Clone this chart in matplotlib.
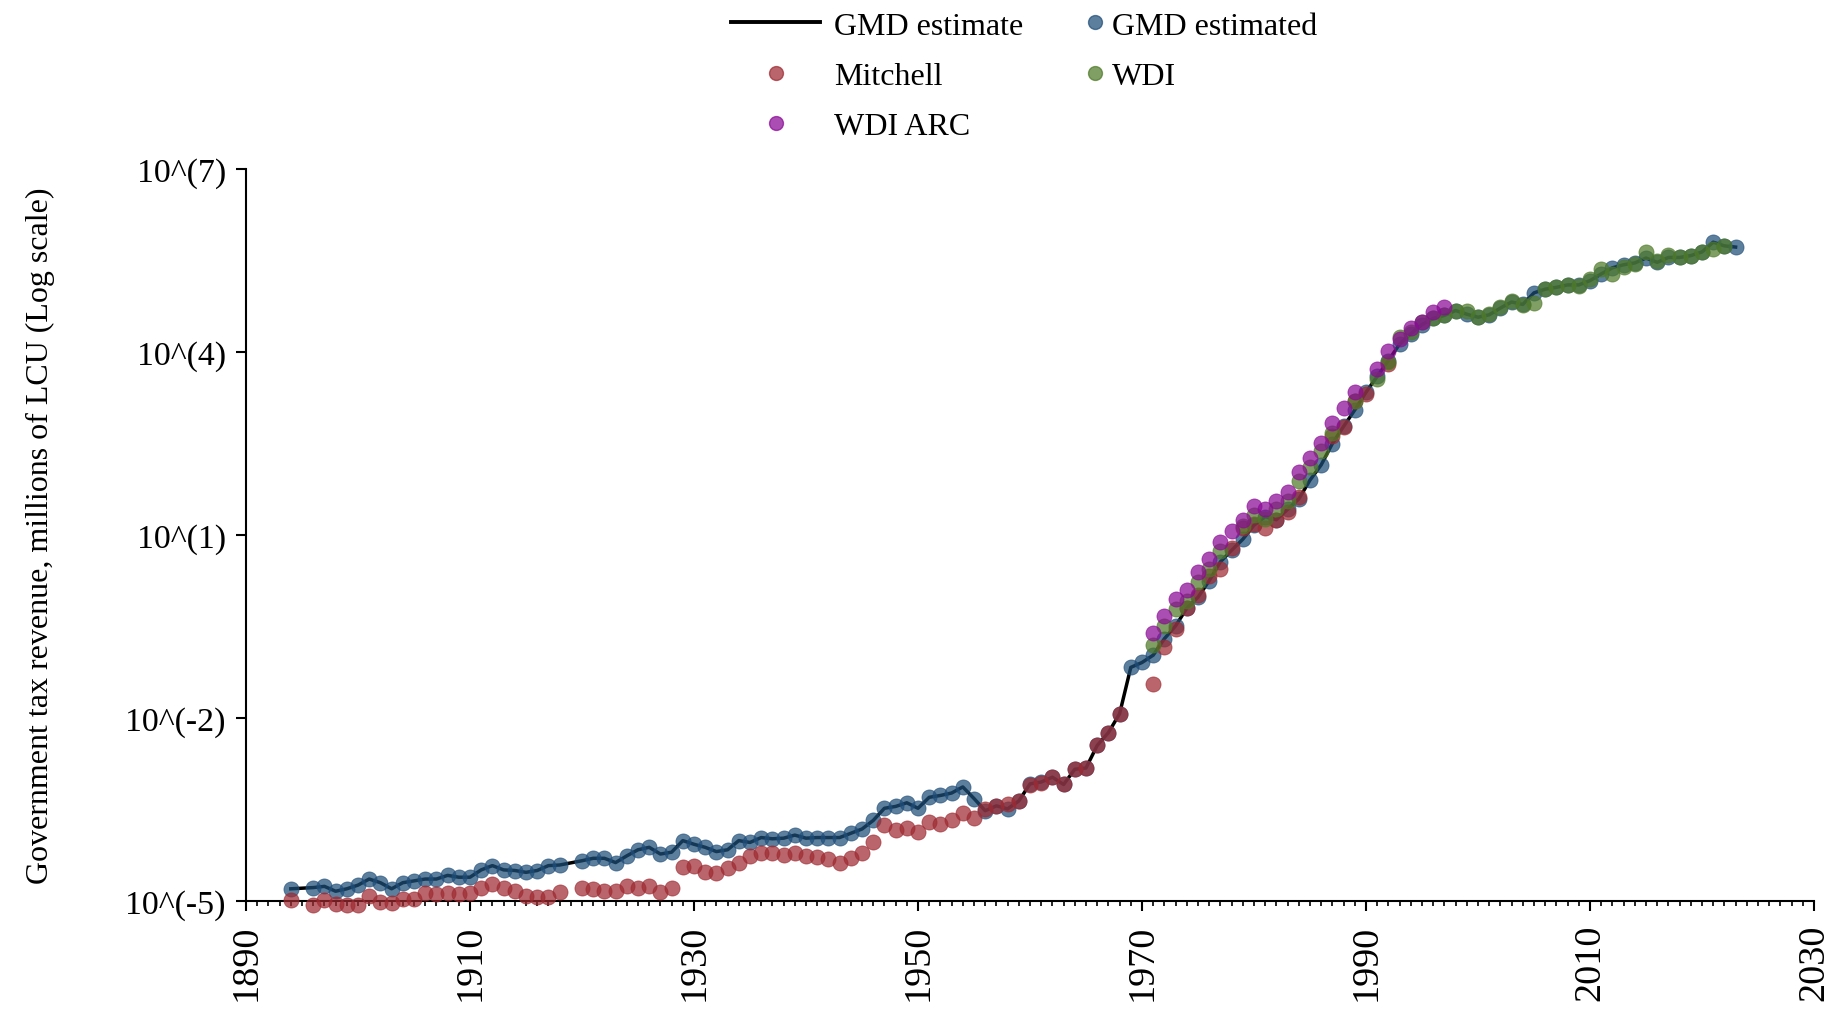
import numpy as np
import matplotlib.pyplot as plt
from matplotlib.lines import Line2D
from matplotlib.ticker import MultipleLocator, NullLocator

plt.rcParams['font.family'] = ['Liberation Serif', 'DejaVu Serif']

# values, stored as log10 of millions of LCU
gmd_years = [1894] + list(range(1896, 1919)) + list(range(1920, 2024))
gmd_log = [-4.80,
           -4.78, -4.76, -4.84, -4.80, -4.74, -4.64, -4.70, -4.80, -4.70, -4.67,
           -4.64, -4.64, -4.58, -4.61, -4.61, -4.49, -4.42, -4.49, -4.50, -4.53,
           -4.50, -4.42, -4.41,
           -4.34, -4.30, -4.30, -4.37, -4.26, -4.16, -4.12, -4.23, -4.20, -4.01,
           -4.07, -4.12, -4.19, -4.16, -4.01, -4.04, -3.96, -3.98, -3.97, -3.92,
           -3.97, -3.96, -3.96, -3.96, -3.89, -3.82, -3.68, -3.48, -3.45, -3.39,
           -3.48, -3.30, -3.27, -3.23, -3.13, -3.32, -3.52, -3.44, -3.49, -3.36,
           -3.08, -3.05, -2.97, -3.09, -2.84, -2.82, -2.45, -2.24, -1.93, -1.17,
           -1.09, -0.97, -0.70, -0.49, -0.20, -0.02, 0.25, 0.56, 0.75, 0.93,
           1.16, 1.30, 1.25, 1.42, 1.59, 1.90, 2.15, 2.50, 2.78, 3.05,
           3.34, 3.60, 3.86, 4.13, 4.30, 4.45, 4.55, 4.60, 4.68, 4.62,
           4.57, 4.61, 4.72, 4.82, 4.78, 4.97, 5.03, 5.06, 5.10, 5.10,
           5.17, 5.28, 5.38, 5.43, 5.46, 5.54, 5.47, 5.55, 5.55, 5.58,
           5.64, 5.80, 5.74, 5.72]

mitchell_years = ([1894] + list(range(1896, 1919)) + list(range(1920, 1969))
                  + list(range(1971, 1985)) + [1987, 1988, 1989, 1990, 1992])
mitchell_log = [-4.99,
                -5.07, -4.98, -5.05, -5.07, -5.07, -4.92, -5.01, -5.03, -4.97, -4.97,
                -4.87, -4.89, -4.87, -4.89, -4.87, -4.78, -4.72, -4.79, -4.83, -4.92,
                -4.94, -4.94, -4.86,
                -4.78, -4.81, -4.83, -4.83, -4.75, -4.79, -4.76, -4.86, -4.78, -4.45,
                -4.42, -4.53, -4.54, -4.46, -4.37, -4.27, -4.21, -4.22, -4.24, -4.21,
                -4.26, -4.28, -4.31, -4.37, -4.30, -4.22, -4.03, -3.76, -3.83, -3.81,
                -3.87, -3.70, -3.74, -3.67, -3.56, -3.64, -3.49, -3.44, -3.41, -3.36,
                -3.10, -3.07, -2.97, -3.09, -2.84, -2.82, -2.45, -2.24, -1.93,
                -1.45, -0.84, -0.54, -0.20, 0.02, 0.32, 0.44, 0.78, 1.11, 1.18,
                1.11, 1.25, 1.37, 1.63,
                2.63, 2.77, 3.20, 3.31, 3.80]

wdi_years = (list(range(1971, 1978)) + list(range(1979, 1988)) + [1989]
             + list(range(1991, 2023)))
wdi_log = [-0.80, -0.49, -0.22, -0.08, 0.23, 0.44, 0.73,
           1.15, 1.33, 1.27, 1.43, 1.56, 1.89, 2.11, 2.37, 2.68,
           3.20,
           3.56, 3.83, 4.24, 4.32, 4.49, 4.55, 4.60, 4.68, 4.68,
           4.57, 4.62, 4.73, 4.84, 4.77, 4.81, 5.03, 5.06, 5.10, 5.08,
           5.20, 5.36, 5.28, 5.39, 5.44, 5.64, 5.50, 5.59, 5.55, 5.58,
           5.64, 5.69, 5.74]

arc_years = list(range(1971, 1990)) + list(range(1991, 1998))
arc_log = [-0.61, -0.33, -0.05, 0.10, 0.39, 0.61, 0.89, 1.06, 1.25, 1.48,
           1.43, 1.56, 1.70, 2.03, 2.27, 2.51, 2.84, 3.08, 3.34,
           3.72, 4.02, 4.22, 4.40, 4.50, 4.65, 4.73]

c_gmd = '#1f4e79'
c_mitchell = '#9e2a32'
c_wdi = '#4f7a28'
c_arc = '#8b0a96'
alpha = 0.72

fig = plt.figure(figsize=(18.4, 10.12), dpi=100)
ax = fig.add_axes([246 / 1840, 1 - 902 / 1012, 1568 / 1840, 732 / 1012])

ax.plot(gmd_years, 10 ** np.array(gmd_log), color='black', lw=2.5, zorder=2)

series = [(gmd_years, gmd_log, c_gmd),
          (mitchell_years, mitchell_log, c_mitchell),
          (wdi_years, wdi_log, c_wdi),
          (arc_years, arc_log, c_arc)]
for i, (yrs, vals, col) in enumerate(series):
    ax.scatter(yrs, 10 ** np.array(vals), s=118, color=col, alpha=alpha,
               linewidths=0.6, edgecolors=col, zorder=3 + i, clip_on=False)

ax.set_yscale('log')
ax.set_ylim(1e-5, 1e7)
ax.set_xlim(1890, 2030)
ax.set_yticks([1e-5, 1e-2, 1e1, 1e4, 1e7])
ax.set_yticklabels(['10^(-5)', '10^(-2)', '10^(1)', '10^(4)', '10^(7)'], fontsize=24.4)
ax.yaxis.set_minor_locator(NullLocator())
ax.set_xticks(range(1890, 2031, 20))
ax.set_xticklabels([str(y) for y in range(1890, 2031, 20)], rotation=90, fontsize=27.5)
ax.xaxis.set_minor_locator(MultipleLocator(1))

for side in ['top', 'right']:
    ax.spines[side].set_visible(False)
for side in ['left', 'bottom']:
    ax.spines[side].set_linewidth(1.5)
ax.tick_params(axis='both', which='major', length=7.5, width=1.5, pad=7)
ax.tick_params(axis='x', which='major', pad=9)
ax.tick_params(axis='x', which='minor', length=3.8, width=1.2)

ax.set_ylabel('Government tax revenue, millions of LCU (Log scale)', fontsize=23)
ax.yaxis.set_label_coords(-0.122, 0.5)

# legend: two blocks so the second column can have a short handle
dot = dict(ls='none', marker='o', ms=10, alpha=alpha)
h1 = [Line2D([], [], color='black', lw=2.8),
      Line2D([], [], color=c_mitchell, **dot),
      Line2D([], [], color=c_arc, **dot)]
l1 = ['GMD estimate', 'Mitchell', 'WDI ARC']
h2 = [Line2D([], [], color=c_gmd, **dot),
      Line2D([], [], color=c_wdi, **dot)]
l2 = ['GMD estimated', 'WDI']

leg_kw = dict(loc='upper left', frameon=False, fontsize=23, labelspacing=0.66,
              borderpad=0, borderaxespad=0)
fig.legend(h1, l1, bbox_to_anchor=(731 / 1840, 0.988),
           handlelength=2.8, handletextpad=0.44, **leg_kw)
fig.legend(h2, l2, bbox_to_anchor=(1085 / 1840, 0.988),
           handlelength=0.6, handletextpad=0.25, **leg_kw)

fig.savefig('out.png', dpi=100)
